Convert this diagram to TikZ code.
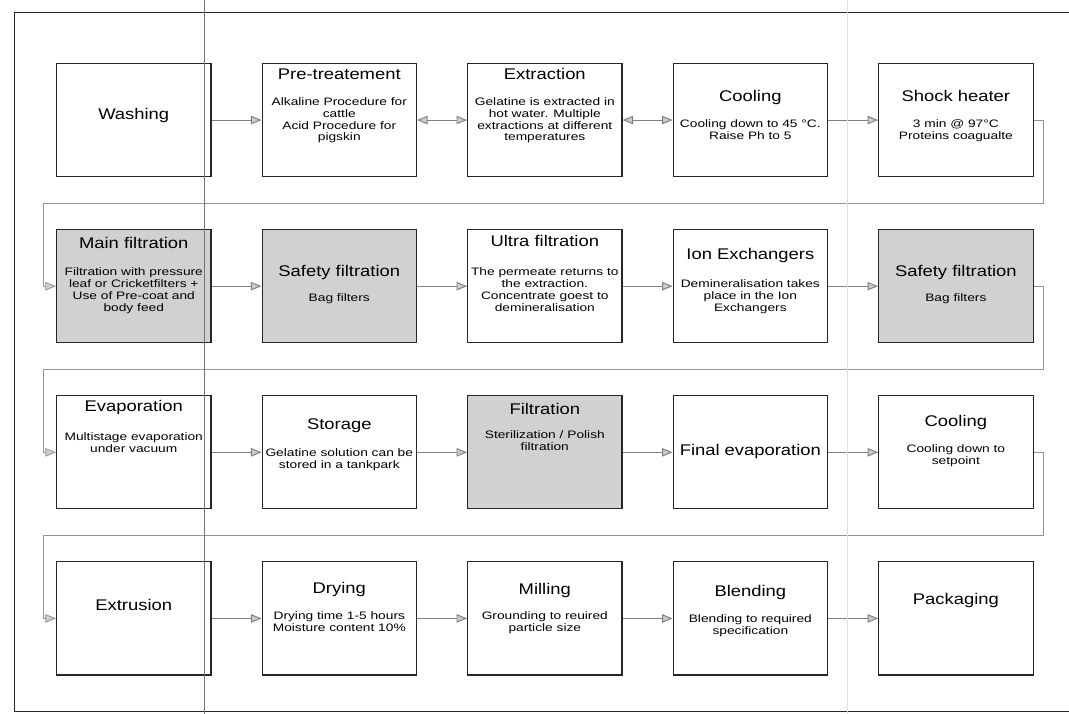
\documentclass[tikz,border=0pt]{standalone}
\usepackage{fontspec}
\usepackage{tikz}
\usetikzlibrary{positioning}
\usetikzlibrary{calc}
\usetikzlibrary{arrows.meta}

\newfontfamily\titlefamily[FakeStretch=1.19]{Liberation Sans}
\newfontfamily\notefamily[FakeStretch=1.27]{Liberation Sans}

\tikzset{
	stagebox/.style={draw=black!85, line width=0.8pt, fill=white,
		minimum width=3.86cm, minimum height=2.825cm, inner sep=0pt},
	shadedbox/.style={stagebox, fill=black!18},
	stagetitle/.style={inner sep=0pt, text height=8pt, text depth=2.2pt,
		font=\titlefamily\fontsize{11}{13}\selectfont},
	stagenote/.style={inner sep=0pt, align=center,
		font=\notefamily\fontsize{7.7}{8.5}\selectfont},
	flow/.style={draw=black!50, line width=0.7pt, -{Triangle[length=7.5pt, width=6pt, fill=black!20]}},
	twoway/.style={draw=black!50, line width=0.7pt,
		{Triangle[length=7.5pt, width=6pt, fill=black!20]}-{Triangle[length=7.5pt, width=6pt, fill=black!20]}},
	wrap/.style={flow, draw=black!42, line width=0.55pt}
}

\begin{document}
\begin{tikzpicture}

	\useasboundingbox (0,0) rectangle (26.725,-17.85);

	% outer frame (open to the right)
	\draw[black!85, line width=0.7pt] (26.725,-0.3) -- (0.35,-0.3) -- (0.35,-17.775) -- (26.725,-17.775);

	% row 1
	\node[stagebox, anchor=north west] (washing) at (1.4,-1.575) {};
	\node[stagebox, right=1.25cm of washing] (pretreatment) {};
	\node[stagebox, right=1.25cm of pretreatment] (extraction) {};
	\node[stagebox, right=1.25cm of extraction] (coolingA) {};
	\node[stagebox, right=1.25cm of coolingA] (shockHeater) {};

	% row 2
	\node[shadedbox, below=1.3cm of washing] (mainFiltration) {};
	\node[shadedbox, right=1.25cm of mainFiltration] (safetyFiltrationA) {};
	\node[stagebox, right=1.25cm of safetyFiltrationA] (ultraFiltration) {};
	\node[stagebox, right=1.25cm of ultraFiltration] (ionExchangers) {};
	\node[shadedbox, right=1.25cm of ionExchangers] (safetyFiltrationB) {};

	% row 3
	\node[stagebox, below=1.3cm of mainFiltration] (evaporation) {};
	\node[stagebox, right=1.25cm of evaporation] (storage) {};
	\node[shadedbox, right=1.25cm of storage] (filtration) {};
	\node[stagebox, right=1.25cm of filtration] (finalEvaporation) {};
	\node[stagebox, right=1.25cm of finalEvaporation] (coolingB) {};

	% row 4
	\node[stagebox, below=1.3cm of evaporation] (extrusion) {};
	\node[stagebox, right=1.25cm of extrusion] (drying) {};
	\node[stagebox, right=1.25cm of drying] (milling) {};
	\node[stagebox, right=1.25cm of milling] (blending) {};
	\node[stagebox, right=1.25cm of blending] (packaging) {};

	% texts, row 1
	\node[stagetitle] (washingTitle) at ([yshift=0.12cm]washing.center) {Washing};
	\node[stagetitle, below=0.125cm of pretreatment.north] (pretreatmentTitle) {Pre-treatement};
	\node[stagenote, below=0.85cm of pretreatment.north] (pretreatmentNote)
		{Alkaline Procedure for\\cattle\\Acid Procedure for\\pigskin};
	\node[stagetitle, below=0.125cm of extraction.north] (extractionTitle) {Extraction};
	\node[stagenote, below=0.85cm of extraction.north] (extractionNote)
		{Gelatine is extracted in\\hot water. Multiple\\extractions at different\\temperatures};
	\node[stagetitle, below=0.675cm of coolingA.north] (coolingATitle) {Cooling};
	\node[stagenote, below=1.4cm of coolingA.north] (coolingANote)
		{Cooling down to 45 °C.\\Raise Ph to 5};
	\node[stagetitle, below=0.675cm of shockHeater.north] (shockHeaterTitle) {Shock heater};
	\node[stagenote, below=1.4cm of shockHeater.north] (shockHeaterNote)
		{3 min @ 97°C\\Proteins coagualte};

	% texts, row 2
	\node[stagetitle, below=0.2cm of mainFiltration.north] (mainFiltrationTitle) {Main filtration};
	\node[stagenote, below=0.95cm of mainFiltration.north] (mainFiltrationNote)
		{Filtration with pressure\\leaf or Cricketfilters +\\Use of Pre-coat and\\body feed};
	\node[stagetitle, below=0.9cm of safetyFiltrationA.north] (safetyFiltrationATitle) {Safety filtration};
	\node[stagenote, below=1.6cm of safetyFiltrationA.north] (safetyFiltrationANote) {Bag filters};
	\node[stagetitle, below=0.15cm of ultraFiltration.north] (ultraFiltrationTitle) {Ultra filtration};
	\node[stagenote, below=0.95cm of ultraFiltration.north] (ultraFiltrationNote)
		{The permeate returns to\\the extraction.\\Concentrate goest to\\demineralisation};
	\node[stagetitle, below=0.475cm of ionExchangers.north] (ionExchangersTitle) {Ion Exchangers};
	\node[stagenote, below=1.25cm of ionExchangers.north] (ionExchangersNote)
		{Demineralisation takes\\place in the Ion\\Exchangers};
	\node[stagetitle, below=0.9cm of safetyFiltrationB.north] (safetyFiltrationBTitle) {Safety filtration};
	\node[stagenote, below=1.6cm of safetyFiltrationB.north] (safetyFiltrationBNote) {Bag filters};

	% texts, row 3
	\node[stagetitle, below=0.125cm of evaporation.north] (evaporationTitle) {Evaporation};
	\node[stagenote, below=0.925cm of evaporation.north] (evaporationNote)
		{Multistage evaporation\\under vacuum};
	\node[stagetitle, below=0.575cm of storage.north] (storageTitle) {Storage};
	\node[stagenote, below=1.325cm of storage.north] (storageNote)
		{Gelatine solution can be\\stored in a tankpark};
	\node[stagetitle, below=0.2cm of filtration.north] (filtrationTitle) {Filtration};
	\node[stagenote, below=0.875cm of filtration.north] (filtrationNote)
		{Sterilization / Polish\\filtration};
	\node[stagetitle] (finalEvaporationTitle) at ([yshift=0.03cm]finalEvaporation.center) {Final evaporation};
	\node[stagetitle, below=0.5cm of coolingB.north] (coolingBTitle) {Cooling};
	\node[stagenote, below=1.225cm of coolingB.north] (coolingBNote)
		{Cooling down to\\setpoint};

	% texts, row 4
	\node[stagetitle] (extrusionTitle) at ([yshift=0.3cm]extrusion.center) {Extrusion};
	\node[stagetitle, below=0.525cm of drying.north] (dryingTitle) {Drying};
	\node[stagenote, below=1.25cm of drying.north] (dryingNote)
		{Drying time 1-5 hours\\Moisture content 10\%};
	\node[stagetitle, below=0.55cm of milling.north] (millingTitle) {Milling};
	\node[stagenote, below=1.25cm of milling.north] (millingNote)
		{Grounding to reuired\\particle size};
	\node[stagetitle, below=0.6cm of blending.north] (blendingTitle) {Blending};
	\node[stagenote, below=1.325cm of blending.north] (blendingNote)
		{Blending to required\\specification};
	\node[stagetitle] (packagingTitle) at ([yshift=0.45cm]packaging.center) {Packaging};

	% arrows inside the rows
	\draw[flow] (washing.east) -- (pretreatment.west);
	\draw[twoway] (pretreatment.east) -- (extraction.west);
	\draw[twoway] (extraction.east) -- (coolingA.west);
	\draw[flow] (coolingA.east) -- (shockHeater.west);

	\draw[flow] (mainFiltration.east) -- (safetyFiltrationA.west);
	\draw[flow] (safetyFiltrationA.east) -- (ultraFiltration.west);
	\draw[flow] (ultraFiltration.east) -- (ionExchangers.west);
	\draw[flow] (ionExchangers.east) -- (safetyFiltrationB.west);

	\draw[flow] (evaporation.east) -- (storage.west);
	\draw[flow] (storage.east) -- (filtration.west);
	\draw[flow] (filtration.east) -- (finalEvaporation.west);
	\draw[flow] (finalEvaporation.east) -- (coolingB.west);

	\draw[flow] (extrusion.east) -- (drying.west);
	\draw[flow] (drying.east) -- (milling.west);
	\draw[flow] (milling.east) -- (blending.west);
	\draw[flow] (blending.east) -- (packaging.west);

	% arrows from one row to the next
	\coordinate (rightRail) at (26.075,0);
	\coordinate (leftRail) at (1.075,0);
	\coordinate[below=0.65cm of shockHeater.south] (gapA);
	\coordinate[below=0.65cm of safetyFiltrationB.south] (gapB);
	\coordinate[below=0.65cm of coolingB.south] (gapC);
	\draw[wrap] (shockHeater.east) -| (gapA -| rightRail) -- (gapA -| leftRail) |- (mainFiltration.west);
	\draw[wrap] (safetyFiltrationB.east) -| (gapB -| rightRail) -- (gapB -| leftRail) |- (evaporation.west);
	\draw[wrap] (coolingB.east) -| (gapC -| rightRail) -- (gapC -| leftRail) |- (extrusion.west);

	% scan lines
	\draw[black!12, line width=0.5pt] (21.175,0) -- (21.175,-17.85);
	\draw[black!55, line width=0.5pt] (5.1,0) -- (5.1,-17.85);

\end{tikzpicture}
\end{document}
